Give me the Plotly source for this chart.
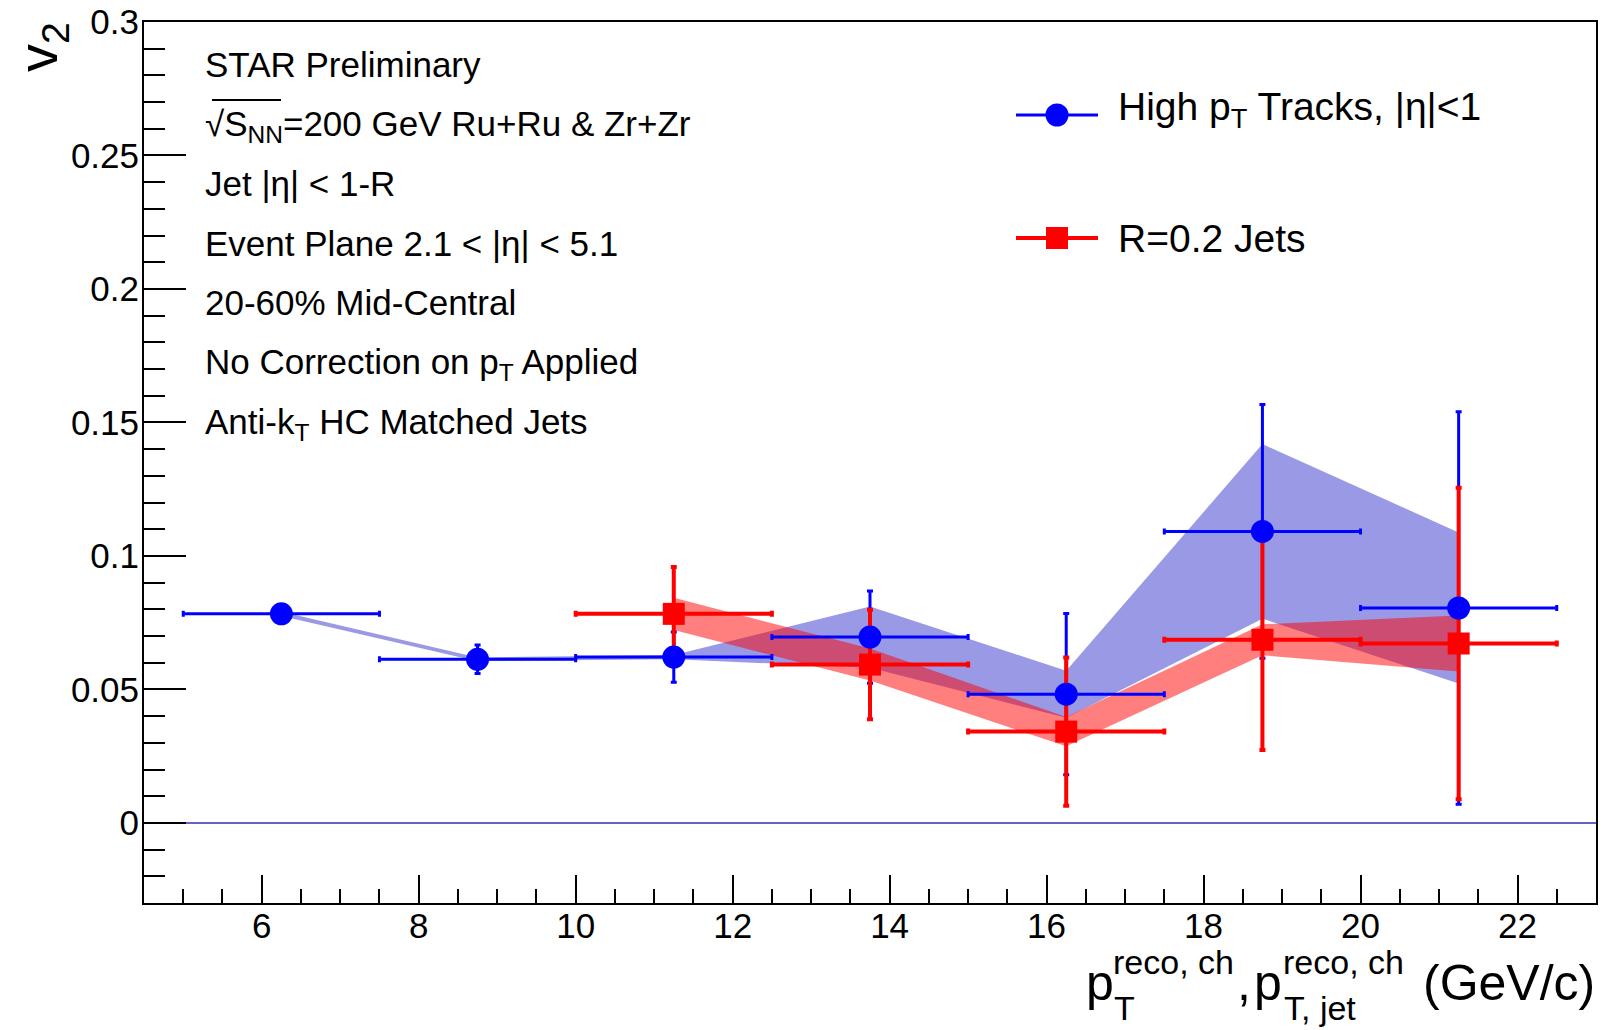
import plotly.graph_objects as go

# ---------------- data ----------------
track_pt = [6.25, 8.75, 11.25, 13.75, 16.25, 18.75, 21.25]
track_pt_halfbin = [1.25, 1.25, 1.25, 1.25, 1.25, 1.25, 1.25]
track_v2 = [0.0783, 0.0613, 0.0621, 0.0696, 0.0482, 0.1092, 0.0805]
track_stat = [0.0035, 0.0053, 0.0094, 0.0173, 0.0302, 0.0475, 0.0735]
track_sys = [0.0008, 0.0007, 0.0008, 0.0115, 0.0088, 0.0327, 0.0283]

jet_pt = [11.25, 13.75, 16.25, 18.75, 21.25]
jet_pt_halfbin = [1.25, 1.25, 1.25, 1.25, 1.25]
jet_v2 = [0.0783, 0.0593, 0.0342, 0.0686, 0.0672]
jet_stat = [0.0176, 0.0205, 0.0278, 0.0413, 0.0583]
jet_sys = [0.0060, 0.0060, 0.0055, 0.0058, 0.0105]

legend_labels = ["High p<sub>T</sub> Tracks, |η|&lt;1", "R=0.2 Jets"]
info_lines = [
    "STAR Preliminary",
    "√S<sub>NN</sub>=200 GeV Ru+Ru &amp; Zr+Zr",
    "Jet |η| &lt; 1-R",
    "Event Plane 2.1 &lt; |η| &lt; 5.1",
    "20-60% Mid-Central",
    "No Correction on p<sub>T</sub> Applied",
    "Anti-k<sub>T</sub> HC Matched Jets",
]

# ---------------- style ----------------
FONT = "Liberation Sans, Arial, Helvetica, sans-serif"
BLUE = "rgb(0,0,255)"
RED = "rgb(255,0,0)"
BLUE_BAND = "rgba(0,0,190,0.4)"
RED_BAND = "rgba(255,0,0,0.5)"

W, H = 1621, 1030
L, R, T, B = 144, 25, 22, 127
PW, PH = W - L - R, H - T - B


def xp(px):
    return (px - L) / PW


def yp(py):
    return (H - B - py) / PH


fig = go.Figure()

# systematic bands
def band(xs, ys, es, color):
    up = [y + e for y, e in zip(ys, es)]
    lo = [y - e for y, e in zip(ys, es)]
    return go.Scatter(x=xs + xs[::-1], y=up + lo[::-1], fill="toself",
                      fillcolor=color, mode="none", hoverinfo="skip",
                      showlegend=False)

fig.add_trace(band(track_pt, track_v2, track_sys, BLUE_BAND))
fig.add_trace(band(jet_pt, jet_v2, jet_sys, RED_BAND))

# statistical error bars
fig.add_trace(go.Scatter(
    x=track_pt, y=track_v2, mode="markers", showlegend=False,
    marker=dict(size=1, opacity=0),
    error_x=dict(type="data", array=track_pt_halfbin, color=BLUE, thickness=3, width=3),
    error_y=dict(type="data", array=track_stat, color=BLUE, thickness=3, width=3),
))
fig.add_trace(go.Scatter(
    x=jet_pt, y=jet_v2, mode="markers", showlegend=False,
    marker=dict(size=1, opacity=0),
    error_x=dict(type="data", array=jet_pt_halfbin, color=RED, thickness=4, width=3),
    error_y=dict(type="data", array=jet_stat, color=RED, thickness=4, width=3),
))
# markers
fig.add_trace(go.Scatter(x=track_pt, y=track_v2, mode="markers", showlegend=False,
                         marker=dict(symbol="circle", size=23, color=BLUE, line=dict(width=0))))
fig.add_trace(go.Scatter(x=jet_pt, y=jet_v2, mode="markers", showlegend=False,
                         marker=dict(symbol="square", size=22, color=RED, line=dict(width=0))))

axis_common = dict(
    showgrid=False, showline=True, linecolor="black", linewidth=2, mirror=True,
    ticks="inside", tickcolor="black", tickwidth=1.5, automargin=False,
    tickfont=dict(family=FONT, size=35, color="black"),
)
fig.update_xaxes(range=[4.5, 23], tick0=0, dtick=2, ticklen=28, zeroline=False,
                 minor=dict(dtick=0.5, ticks="inside", ticklen=14, tickcolor="black", tickwidth=1.5),
                 ticklabelstandoff=-9, **axis_common)
fig.update_yaxes(range=[-0.03, 0.3], tick0=0, dtick=0.05, ticklen=42,
                 zeroline=True, zerolinecolor="rgb(100,100,200)", zerolinewidth=2,
                 minor=dict(dtick=0.01, ticks="inside", ticklen=21, tickcolor="black", tickwidth=1.5),
                 ticklabelstandoff=-4, **axis_common)

annotations = []
# info text block
centers = [65, 124, 184, 244, 303, 362, 422]
for txt, c in zip(info_lines, centers):
    annotations.append(dict(text=txt, xref="paper", yref="paper", x=xp(204), y=yp(c - 21),
                            xanchor="left", yanchor="top", showarrow=False, borderpad=0,
                            font=dict(family=FONT, size=35, color="black")))
# legend text
for txt, c in zip(legend_labels, [107, 239]):
    annotations.append(dict(text=txt, xref="paper", yref="paper", x=xp(1117), y=yp(c - 23),
                            xanchor="left", yanchor="top", showarrow=False, borderpad=0,
                            font=dict(family=FONT, size=39, color="black")))
# y title
annotations.append(dict(text="v<sub>2</sub>", xref="paper", yref="paper", x=xp(41), y=yp(47),
                        xanchor="center", yanchor="middle", textangle=-90, showarrow=False,
                        borderpad=0, font=dict(family=FONT, size=56, color="black")))
# x title pieces
def xt(text, x, yc, size, anchor="left"):
    annotations.append(dict(text=text, xref="paper", yref="paper", x=xp(x), y=yp(yc),
                            xanchor=anchor, yanchor="middle", showarrow=False, borderpad=0,
                            font=dict(family=FONT, size=size, color="black")))

xt("p", 1085, 983, 50)
xt("reco, ch", 1112, 962, 34)
xt("T", 1113, 1008, 34)
xt(",", 1236, 983, 50)
xt("p", 1253, 983, 50)
xt("reco, ch", 1282, 962, 34)
xt("T, jet", 1283, 1008, 34)
xt("(GeV/c)", 1596, 983, 50, anchor="right")

shapes = [
    # sqrt vinculum
    dict(type="line", xref="paper", yref="paper", x0=xp(212), x1=xp(281), y0=yp(100), y1=yp(100),
         line=dict(color="black", width=2)),
    # legend lines
    dict(type="line", xref="paper", yref="paper", x0=xp(1016), x1=xp(1098), y0=yp(115), y1=yp(115),
         line=dict(color=BLUE, width=3)),
    dict(type="line", xref="paper", yref="paper", x0=xp(1016), x1=xp(1098), y0=yp(238), y1=yp(238),
         line=dict(color=RED, width=4)),
    dict(type="circle", xref="paper", yref="paper", xsizemode="pixel", ysizemode="pixel",
         xanchor=xp(1057), yanchor=yp(115), x0=-11.5, x1=11.5, y0=-11.5, y1=11.5,
         fillcolor=BLUE, line=dict(width=0)),
    dict(type="rect", xref="paper", yref="paper", xsizemode="pixel", ysizemode="pixel",
         xanchor=xp(1057), yanchor=yp(238), x0=-11, x1=11, y0=-11, y1=11,
         fillcolor=RED, line=dict(width=0)),
]

fig.update_layout(
    width=W, height=H, autosize=False,
    margin=dict(l=L, r=R, t=T, b=B, pad=0),
    paper_bgcolor="white", plot_bgcolor="white",
    showlegend=False,
    annotations=annotations, shapes=shapes,
)

fig.write_html("out.html")
